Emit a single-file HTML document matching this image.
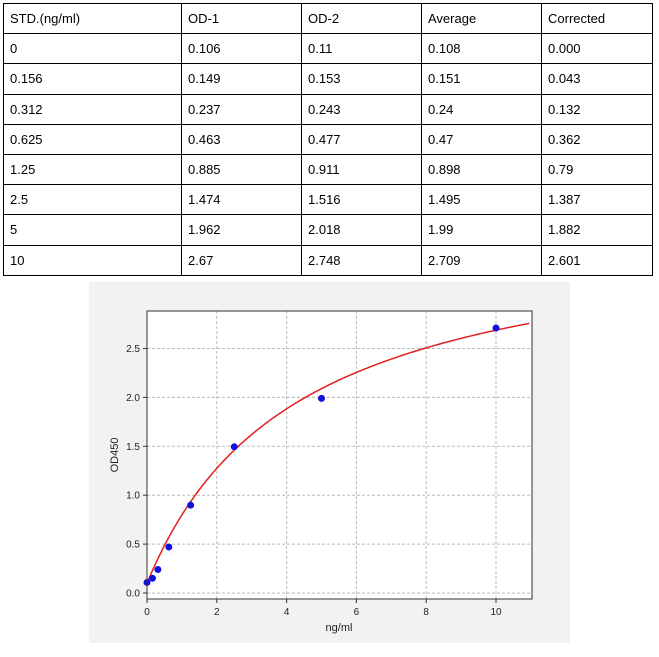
<!DOCTYPE html>
<html><head><meta charset="utf-8"><style>
body{margin:0;background:#fff;width:659px;height:657px;position:relative;font-family:"Liberation Sans",sans-serif}
table{position:absolute;left:3px;top:3px;border-collapse:collapse;font-size:13px;color:#000}
td{border:1px solid #000;height:30.2px;padding:0 0 0 6px;box-sizing:border-box}
</style></head><body>
<table>
<tr><td style="width:178px">STD.(ng/ml)</td><td style="width:120px">OD-1</td><td style="width:120px">OD-2</td><td style="width:120px">Average</td><td style="width:111px">Corrected</td></tr>
<tr><td>0</td><td>0.106</td><td>0.11</td><td>0.108</td><td>0.000</td></tr>
<tr><td>0.156</td><td>0.149</td><td>0.153</td><td>0.151</td><td>0.043</td></tr>
<tr><td>0.312</td><td>0.237</td><td>0.243</td><td>0.24</td><td>0.132</td></tr>
<tr><td>0.625</td><td>0.463</td><td>0.477</td><td>0.47</td><td>0.362</td></tr>
<tr><td>1.25</td><td>0.885</td><td>0.911</td><td>0.898</td><td>0.79</td></tr>
<tr><td>2.5</td><td>1.474</td><td>1.516</td><td>1.495</td><td>1.387</td></tr>
<tr><td>5</td><td>1.962</td><td>2.018</td><td>1.99</td><td>1.882</td></tr>
<tr><td>10</td><td>2.67</td><td>2.748</td><td>2.709</td><td>2.601</td></tr>
</table>
<svg id="s" style="position:absolute;left:0;top:0" width="659" height="657" font-family="Liberation Sans, DejaVu Sans, sans-serif" font-size="10" fill="#222">
<rect x="89" y="282" width="481" height="361" fill="#f2f2f2"/>
<rect x="147" y="311" width="385" height="288" fill="#fff"/>
<g id="g" stroke="#bbb" stroke-dasharray="3,2" stroke-width="1"></g>
<path id="c" fill="none" stroke="#e02020" stroke-width="1.5"/>
<g id="p" fill="#1010e0"></g>
<rect x="147" y="311" width="385" height="288" fill="none" stroke="#333" stroke-width="1"/>
<g id="t"></g>
<text x="339" y="631" text-anchor="middle" font-size="11">ng/ml</text>
<text transform="translate(118,455) rotate(-90)" text-anchor="middle" font-size="11">OD450</text>
</svg>
<script>
var X=v=>147+v*34.9, Y=v=>593-v*97.8, ns="http://www.w3.org/2000/svg";
function el(p,t,a,txt){var e=document.createElementNS(ns,t);for(var k in a)e.setAttribute(k,a[k]);if(txt!=null)e.textContent=txt;document.getElementById(p).appendChild(e);}
for(var i=0;i<=10;i+=2){var x=X(i);if(i>0)el('g','line',{x1:x,x2:x,y1:311,y2:599});el('t','line',{x1:x,x2:x,y1:599,y2:603,stroke:'#333'});el('t','text',{x:x,y:615,'text-anchor':'middle'},''+i);}
for(var j=0;j<=5;j++){var v=j*0.5,y=Y(v);el('g','line',{x1:147,x2:532,y1:y,y2:y});el('t','line',{x1:143,x2:147,y1:y,y2:y,stroke:'#333'});el('t','text',{x:140,y:y+3.5,'text-anchor':'end'},v.toFixed(1));}
var d='';for(var x=0;x<=11;x+=0.05){var v=0.1+3.7*x/(4.3+x);d+=(x?'L':'M')+X(x).toFixed(1)+','+Y(v).toFixed(1);}
document.getElementById('c').setAttribute('d',d);
[[0,0.108],[0.156,0.151],[0.312,0.24],[0.625,0.47],[1.25,0.898],[2.5,1.495],[5,1.99],[10,2.709]].forEach(p=>el('p','circle',{cx:X(p[0]),cy:Y(p[1]),r:3.5}));
</script>
</body></html>
